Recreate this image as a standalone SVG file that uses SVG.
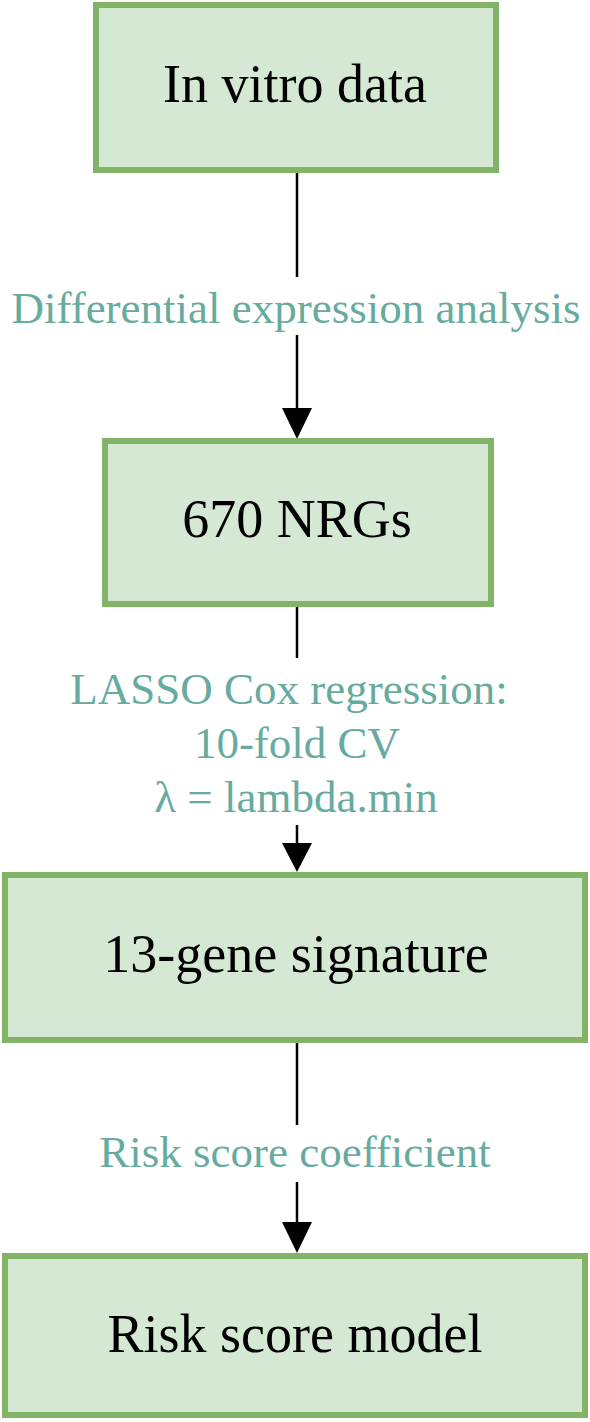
<svg xmlns="http://www.w3.org/2000/svg" width="590" height="1422" viewBox="0 0 590 1422">
  <style>
    .box { fill: #d5e8d4; stroke: #82b366; stroke-width: 6; }
    .nt { font-family: "Liberation Serif", "Times New Roman", serif; font-size: 54px; fill: #000; text-anchor: middle; }
    .lt { font-family: "Liberation Serif", "Times New Roman", serif; font-size: 45px; fill: #67ab9f; text-anchor: middle; }
    .ln { stroke: #000; stroke-width: 2.5; fill: none; }
    .hd { fill: #000; stroke: none; }
  </style>
  <rect width="590" height="1422" fill="#ffffff"/>
  <g id="connectors">
    <g id="edge1">
      <line class="ln" x1="297" y1="173" x2="297" y2="277"/>
      <line class="ln" x1="297" y1="335" x2="297" y2="412"/>
      <polygon class="hd" points="282,408 312,408 297,439"/>
      <text class="lt" x="296" y="323">Differential expression analysis</text>
    </g>
    <g id="edge2">
      <line class="ln" x1="297" y1="607" x2="297" y2="658"/>
      <line class="ln" x1="297" y1="825" x2="297" y2="847"/>
      <polygon class="hd" points="282,843 312,843 297,872"/>
      <text class="lt" x="289" y="704">LASSO Cox regression:</text>
      <text class="lt" x="297" y="758">10-fold CV</text>
      <text class="lt" x="296" y="812">λ = lambda.min</text>
    </g>
    <g id="edge3">
      <line class="ln" x1="297" y1="1043" x2="297" y2="1125"/>
      <line class="ln" x1="297" y1="1182" x2="297" y2="1226"/>
      <polygon class="hd" points="282,1222 312,1222 297,1253"/>
      <text class="lt" x="295" y="1167">Risk score coefficient</text>
    </g>
  </g>
  <g id="node1">
    <rect class="box" x="96" y="5" width="400" height="165"/>
    <text class="nt" x="295" y="102">In vitro data</text>
  </g>
  <g id="node2">
    <rect class="box" x="105" y="441" width="386" height="163"/>
    <text class="nt" x="297" y="537">670 NRGs</text>
  </g>
  <g id="node3">
    <rect class="box" x="5" y="875" width="580" height="165"/>
    <text class="nt" x="296" y="972">13-gene signature</text>
  </g>
  <g id="node4">
    <rect class="box" x="5" y="1256" width="580" height="159"/>
    <text class="nt" x="295" y="1352">Risk score model</text>
  </g>
</svg>
